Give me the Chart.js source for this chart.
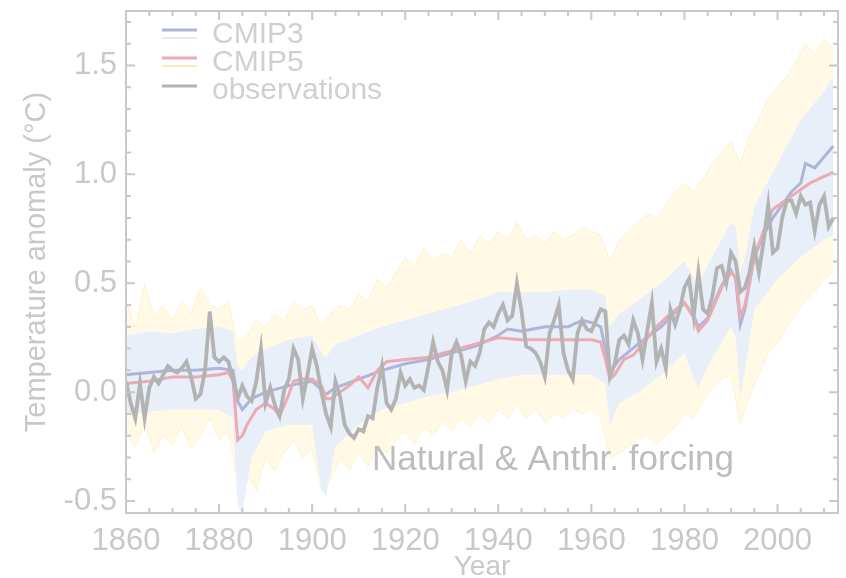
<!DOCTYPE html>
<html><head><meta charset="utf-8">
<script src="https://cdn.jsdelivr.net/npm/chart.js@4.4.0/dist/chart.umd.min.js"></script>
<style>html,body{margin:0;padding:0;background:#fff;overflow:hidden}</style>
</head><body>
<canvas id="c" width="846" height="578"></canvas>
<script>
// ---------------- DATA ----------------
const obsStartYear = 1860;
const observations = [
  0.05,-0.05,-0.12,0.04,-0.12,0.02,0.07,0.04,0.08,0.12,
  0.10,0.09,0.11,0.14,0.07,-0.03,-0.01,0.10,0.37,0.16,
  0.14,0.16,0.14,0.06,-0.03,0.03,-0.02,-0.04,0.05,0.20,
  -0.05,0.02,-0.06,-0.11,0.01,0.06,0.20,0.15,-0.03,0.08,
  0.20,0.12,0.00,-0.10,-0.16,0.05,-0.02,-0.15,-0.19,-0.21,
  -0.17,-0.18,-0.11,-0.12,0.02,0.12,-0.05,-0.08,-0.03,0.09,
  0.03,0.06,0.02,0.03,0.01,0.12,0.23,0.14,0.10,0.01,
  0.18,0.23,0.17,0.05,0.14,0.12,0.18,0.29,0.32,0.30,
  0.36,0.40,0.33,0.35,0.50,0.37,0.21,0.20,0.18,0.14,
  0.07,0.27,0.33,0.40,0.18,0.10,0.06,0.27,0.33,0.29,
  0.28,0.33,0.38,0.37,0.07,0.13,0.24,0.26,0.22,0.33,
  0.27,0.15,0.28,0.41,0.14,0.20,0.11,0.38,0.31,0.38,
  0.48,0.52,0.35,0.55,0.38,0.36,0.44,0.57,0.58,0.50,
  0.64,0.60,0.46,0.48,0.55,0.67,0.55,0.69,0.86,0.64,
  0.66,0.80,0.88,0.88,0.82,0.90,0.86,0.87,0.74,0.86,
  0.90,0.76,0.80
];

const cmip5Years = [1860,1865,1870,1875,1880,1882,1883,1884,1885,1886,1888,1890,1892,1893,1895,1896,1898,1900,1902,1903,1904,1906,1908,1910,1912,1914,1916,1920,1925,1930,1935,1940,1945,1950,1955,1960,1962,1963,1964,1965,1967,1969,1971,1974,1977,1980,1982,1983,1985,1988,1990,1991,1992,1993,1995,1997,1999,2001,2003,2005,2007,2009,2011,2012];
const cmip5Mean = [0.04,0.05,0.07,0.07,0.08,0.09,0.05,-0.22,-0.20,-0.15,-0.08,-0.05,-0.08,-0.11,-0.01,0.05,0.06,0.06,0.03,-0.03,-0.03,0.00,0.03,0.07,0.02,0.10,0.14,0.15,0.16,0.19,0.22,0.25,0.24,0.24,0.24,0.24,0.23,0.15,0.06,0.08,0.15,0.17,0.22,0.30,0.36,0.41,0.34,0.28,0.33,0.48,0.55,0.53,0.35,0.40,0.62,0.74,0.84,0.87,0.90,0.93,0.96,0.98,1.00,1.01];

const cmip3Years = [1860,1865,1870,1875,1880,1883,1884,1885,1887,1890,1895,1900,1902,1903,1905,1910,1915,1920,1925,1930,1935,1940,1942,1945,1950,1955,1958,1960,1962,1963,1964,1966,1970,1975,1980,1982,1983,1985,1988,1990,1991,1992,1993,1995,1997,1999,2001,2003,2005,2006,2008,2010,2012];
const cmip3Mean = [0.08,0.09,0.10,0.10,0.11,0.10,-0.04,-0.08,-0.03,0.00,0.03,0.05,0.01,-0.01,0.02,0.06,0.10,0.13,0.15,0.18,0.21,0.26,0.29,0.28,0.30,0.30,0.33,0.32,0.30,0.20,0.09,0.15,0.22,0.30,0.41,0.35,0.30,0.34,0.49,0.56,0.52,0.31,0.38,0.62,0.72,0.80,0.86,0.92,0.96,1.05,1.03,1.08,1.13];

// CMIP3 model range (light blue shading)
const cmip3RangeYears = [1860,1865,1870,1875,1880,1883,1884,1885,1887,1890,1895,1900,1902,1903,1905,1910,1915,1920,1925,1930,1935,1940,1945,1950,1955,1960,1963,1964,1966,1970,1975,1980,1982,1983,1985,1990,1991,1992,1993,1995,2000,2005,2010,2012];
const cmip3Upper = [0.26,0.28,0.27,0.29,0.30,0.28,0.12,0.10,0.16,0.20,0.24,0.26,0.18,0.16,0.22,0.26,0.30,0.33,0.36,0.39,0.42,0.46,0.46,0.46,0.47,0.47,0.44,0.30,0.36,0.42,0.50,0.60,0.52,0.50,0.58,0.78,0.76,0.55,0.62,0.85,1.05,1.25,1.38,1.45];
const cmip3Lower = [-0.10,-0.09,-0.08,-0.08,-0.08,-0.12,-0.52,-0.55,-0.30,-0.18,-0.15,-0.15,-0.45,-0.48,-0.25,-0.15,-0.08,-0.05,-0.02,0.00,0.03,0.06,0.08,0.08,0.08,0.08,0.04,-0.15,-0.05,0.00,0.08,0.18,0.06,0.02,0.12,0.30,0.25,-0.02,0.10,0.38,0.52,0.62,0.70,0.72];

// CMIP5 individual runs envelope (yellow)
const cmip5RangeYears = [1860,1862,1864,1866,1868,1870,1872,1874,1876,1878,1880,1882,1884,1886,1888,1890,1892,1894,1896,1898,1900,1902,1904,1906,1908,1910,1912,1914,1916,1918,1920,1922,1924,1926,1928,1930,1932,1934,1936,1938,1940,1942,1944,1946,1948,1950,1952,1954,1956,1958,1960,1962,1964,1966,1968,1970,1972,1974,1976,1978,1980,1982,1984,1986,1988,1990,1992,1994,1996,1998,2000,2002,2004,2006,2008,2010,2012];
const cmip5Upper = [0.42,0.30,0.50,0.35,0.40,0.33,0.42,0.36,0.48,0.40,0.38,0.42,0.22,0.26,0.33,0.30,0.36,0.32,0.42,0.38,0.40,0.30,0.36,0.40,0.38,0.45,0.42,0.52,0.48,0.55,0.62,0.58,0.66,0.60,0.64,0.62,0.70,0.64,0.72,0.68,0.74,0.70,0.78,0.70,0.72,0.68,0.74,0.70,0.72,0.76,0.74,0.72,0.60,0.70,0.74,0.78,0.82,0.80,0.86,0.92,0.96,0.92,0.98,1.05,1.10,1.15,1.05,1.18,1.25,1.35,1.40,1.45,1.52,1.60,1.55,1.62,1.58];
const cmip5Lower = [-0.18,-0.25,-0.15,-0.28,-0.20,-0.24,-0.16,-0.26,-0.20,-0.12,-0.22,-0.18,-0.42,-0.38,-0.45,-0.30,-0.36,-0.28,-0.22,-0.30,-0.26,-0.45,-0.40,-0.30,-0.36,-0.28,-0.34,-0.24,-0.28,-0.22,-0.18,-0.24,-0.16,-0.20,-0.14,-0.18,-0.12,-0.16,-0.10,-0.14,-0.08,-0.12,-0.06,-0.12,-0.08,-0.14,-0.10,-0.12,-0.08,-0.10,-0.08,-0.12,-0.30,-0.28,-0.25,-0.22,-0.20,-0.24,-0.20,-0.16,-0.10,-0.12,-0.04,0.02,0.06,0.08,-0.15,-0.02,0.08,0.18,0.22,0.30,0.36,0.42,0.46,0.52,0.55];

const xTickStep = 20;   // labelled year ticks
const yTickStep = 0.5;  // labelled anomaly ticks
const legendLabels = ['CMIP3', 'CMIP5', 'observations'];
const annotationText = 'Natural & Anthr. forcing';

// ---------------- HELPERS ----------------
const pts = (xs, ys) => xs.map((v, i) => ({ x: v, y: ys[i] }));
const obsPts = observations.map((v, i) => ({ x: obsStartYear + i, y: v }));

const FONT = "'Liberation Sans', Arial, Helvetica, sans-serif";
const AXIS_GRAY = '#c8c8c8';
const COL_OBS = '#b3b3b3';
const COL_C5 = '#ecaab2';
const COL_C3 = '#adb5da';
const COL_BLUE_FILL = 'rgba(230,238,250,0.88)';
const COL_YEL_FILL = 'rgba(253,230,150,0.24)';
const COL_YEL_LINE = 'rgba(250,220,130,0.30)';

const decor = {
  id: 'decor',
  afterDatasetsDraw(chart) {
    const { ctx, chartArea: a, scales: { x, y } } = chart;
    ctx.save();
    // frame
    ctx.strokeStyle = AXIS_GRAY;
    ctx.lineWidth = 2;
    ctx.strokeRect(a.left, a.top, a.right - a.left, a.bottom - a.top);
    // inward ticks on all four sides
    ctx.lineWidth = 2;
    ctx.beginPath();
    for (let yr = x.min; yr <= x.max; yr += 5) {
      if (yr % 5 !== 0) continue;
      const px = x.getPixelForValue(yr);
      const len = yr % xTickStep === 0 ? 9 : 5;
      ctx.moveTo(px, a.bottom); ctx.lineTo(px, a.bottom - len);
      ctx.moveTo(px, a.top); ctx.lineTo(px, a.top + len);
    }
    for (let k = Math.ceil(y.min * 10); k <= Math.floor(y.max * 10); k++) {
      const py = y.getPixelForValue(k / 10);
      const len = k % 5 === 0 ? 9 : 5;
      ctx.moveTo(a.left, py); ctx.lineTo(a.left + len, py);
      ctx.moveTo(a.right, py); ctx.lineTo(a.right - len, py);
    }
    ctx.stroke();

    // annotation
    ctx.fillStyle = '#bdbdbd';
    ctx.font = `35px ${FONT}`;
    ctx.textAlign = 'left';
    ctx.textBaseline = 'alphabetic';
    ctx.fillText(annotationText, a.left + 246, a.bottom - 43);

    // legend
    const lx = a.left + 36, lw = 35, tx = a.left + 86;
    const rows = [
      { y: a.top + 24, main: COL_C3, sub: 'rgba(226,234,247,1)' },
      { y: a.top + 52, main: COL_C5, sub: 'rgba(252,236,185,1)' },
      { y: a.top + 80, main: COL_OBS, sub: null }
    ];
    ctx.font = `30px ${FONT}`;
    ctx.textBaseline = 'middle';
    rows.forEach((r, i) => {
      ctx.lineWidth = 3;
      ctx.strokeStyle = r.main;
      ctx.beginPath();
      ctx.moveTo(lx, r.y - 5); ctx.lineTo(lx + lw, r.y - 5);
      ctx.stroke();
      if (r.sub) {
        ctx.strokeStyle = r.sub;
        ctx.lineWidth = 2;
        ctx.beginPath();
        ctx.moveTo(lx, r.y + 3); ctx.lineTo(lx + lw, r.y + 3);
        ctx.stroke();
      }
      ctx.fillStyle = '#d0d0d0';
      ctx.fillText(legendLabels[i], tx, r.y);
    });
    ctx.restore();
  }
};

new Chart(document.getElementById('c'), {
  type: 'line',
  data: {
    datasets: [
      { label: 'observations', data: obsPts, borderColor: COL_OBS, borderWidth: 3.8, pointRadius: 0, fill: false },
      { label: 'CMIP5', data: pts(cmip5Years, cmip5Mean), borderColor: COL_C5, borderWidth: 3, pointRadius: 0, fill: false },
      { label: 'CMIP3', data: pts(cmip3Years, cmip3Mean), borderColor: COL_C3, borderWidth: 3, pointRadius: 0, fill: false },
      { label: 'CMIP3 range upper', data: pts(cmip3RangeYears, cmip3Upper), borderWidth: 0, borderColor: 'rgba(0,0,0,0)', pointRadius: 0, fill: '+1', backgroundColor: COL_BLUE_FILL },
      { label: 'CMIP3 range lower', data: pts(cmip3RangeYears, cmip3Lower), borderWidth: 0, borderColor: 'rgba(0,0,0,0)', pointRadius: 0, fill: false },
      { label: 'CMIP5 runs upper', data: pts(cmip5RangeYears, cmip5Upper), borderWidth: 1, borderColor: COL_YEL_LINE, pointRadius: 0, fill: '+1', backgroundColor: COL_YEL_FILL },
      { label: 'CMIP5 runs lower', data: pts(cmip5RangeYears, cmip5Lower), borderWidth: 1, borderColor: COL_YEL_LINE, pointRadius: 0, fill: false }
    ]
  },
  options: {
    responsive: false,
    animation: false,
    devicePixelRatio: 1,
    layout: { padding: { top: 11, right: 8, left: 0, bottom: 0 } },
    plugins: { legend: { display: false }, tooltip: { enabled: false } },
    elements: { line: { tension: 0 } },
    scales: {
      x: {
        type: 'linear', min: 1860, max: 2013,
        grid: { display: false, drawTicks: false },
        border: { display: false },
        ticks: {
          stepSize: xTickStep, includeBounds: false, autoSkip: false, maxRotation: 0,
          color: AXIS_GRAY, font: { family: FONT, size: 31 }, padding: 10,
          callback: v => String(v)
        },
        title: { display: true, text: 'Year', color: AXIS_GRAY, font: { family: FONT, size: 28, lineHeight: 0.8 }, padding: { top: 0, bottom: 0 } },
        afterFit: s => { s.height = 65; s.paddingLeft = 0; s.paddingRight = 0; }
      },
      y: {
        type: 'linear', min: -0.555, max: 1.75,
        grid: { display: false, drawTicks: false },
        border: { display: false },
        ticks: {
          stepSize: yTickStep, includeBounds: false, autoSkip: false,
          color: AXIS_GRAY, font: { family: FONT, size: 31 }, padding: 9,
          callback: v => v.toFixed(1)
        },
        title: { display: true, text: 'Temperature anomaly (°C)', color: AXIS_GRAY, font: { family: FONT, size: 29, lineHeight: 1.2 }, padding: { top: 20, bottom: 0 } },
        afterFit: s => { s.width = 126; s.paddingTop = 0; s.paddingBottom = 0; }
      }
    }
  },
  plugins: [decor]
});
</script>
</body></html>
